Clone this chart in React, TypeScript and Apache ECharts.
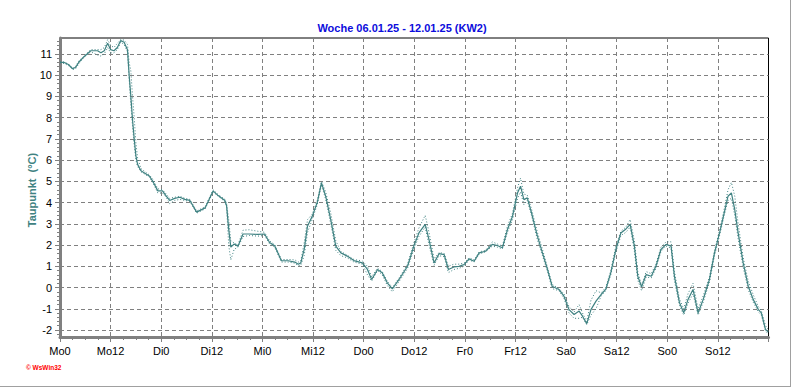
import React, { useEffect, useRef } from "react";
import * as echarts from "echarts";

const hours = [
  0, 1, 2, 3, 3.7, 4.5, 5.7, 7.3, 8.9, 9.7,
  10.5, 11.3, 12, 12.8, 13.6, 14.4, 15.2, 16, 16.4, 16.8,
  17.2, 17.6, 18, 18.4, 19.2, 20.4, 21.2, 22, 23.2, 24.3,
  25.2, 26, 27.2, 28.4, 29.6, 30.8, 32.4, 34.4, 36.3, 37.5,
  39.1, 39.5, 40, 40.5, 41.3, 42.2, 43.4, 44.9, 46.9, 48.5,
  49.7, 50.9, 52.5, 54.1, 55.7, 56.5, 57.1, 57.9, 58.7, 59.8,
  61, 62, 63, 64.2, 65.4, 66.6, 68.1, 69.7, 71.7, 72.9,
  73.9, 75.3, 76.4, 77.6, 78.8, 80.4, 82.4, 83.9, 85.1, 86.6,
  87.5, 88.7, 89.9, 91.1, 92.1, 93.4, 94.6, 95.8, 97, 98.2,
  99.4, 100.9, 102.5, 103.7, 104.9, 106.1, 107.3, 108.5, 109.2, 110,
  110.8, 111.8, 113.2, 114.4, 115.6, 116.7, 118.3, 119.5, 120.7, 121.9,
  123.1, 123.9, 124.9, 125.9, 127.1, 128.3, 129.4, 130.6, 131.8, 133,
  134.2, 135.2, 136.2, 137, 137.9, 139, 140.2, 141.3, 142.5, 143.7,
  144.9, 145.7, 146.9, 147.9, 148.9, 150.1, 151.3, 152.5, 154, 155.2,
  156.4, 157.5, 158.4, 159.2, 160, 160.8, 162, 163.2, 164.4, 165.6,
  166.3, 167.3, 168,
];

const taupunkt = [
  10.6, 10.6, 10.5, 10.3, 10.37, 10.62, 10.87, 11.15, 11.15, 11.05,
  11.15, 11.5, 11.2, 11.15, 11.3, 11.63, 11.55, 11.2, 10.0, 9.0,
  7.9, 7.0, 6.2, 5.8, 5.5, 5.35, 5.25, 5.0, 4.55, 4.55,
  4.3, 4.1, 4.2, 4.25, 4.15, 4.1, 3.55, 3.75, 4.55, 4.33,
  4.1, 3.85, 2.75, 1.9, 2.05, 1.95, 2.52, 2.52, 2.5, 2.52,
  2.12, 1.97, 1.26, 1.26, 1.2, 1.1, 1.16, 1.8, 2.9, 3.35,
  4.0, 4.93, 4.3, 3.2, 1.95, 1.63, 1.48, 1.27, 1.16, 0.85,
  0.38, 0.85, 0.7, 0.22, -0.06, 0.38, 1.0, 1.95, 2.57, 2.97,
  2.26, 1.16, 1.6, 1.55, 0.85, 0.97, 1.0, 1.08, 1.35, 1.24,
  1.63, 1.71, 2.03, 1.98, 1.87, 2.73, 3.36, 4.46, 4.77, 4.14,
  4.22, 3.52, 2.42, 1.63, 0.85, 0.06, -0.09, -0.41, -1.04, -1.27,
  -1.11, -1.35, -1.7, -1.04, -0.64, -0.33, -0.09, 0.69, 1.79, 2.57,
  2.76, 2.97, 1.95, 0.53, 0.03, 0.61, 0.53, 1.0, 1.79, 2.03,
  1.95, 0.53, -0.72, -1.19, -0.57, -0.09, -1.19, -0.57, 0.38, 1.63,
  2.57, 3.52, 4.3, 4.46, 3.67, 2.57, 1.16, 0.06, -0.57, -1.04,
  -1.19, -1.98, -2.1,
];

const taupunktMin = [
  10.58, 10.55, 10.45, 10.27, 10.3, 10.55, 10.85, 11.1, 10.95, 10.9,
  11.0, 11.3, 11.05, 11.05, 11.2, 11.55, 11.45, 11.1, 9.8, 8.6,
  7.6, 6.7, 6.0, 5.7, 5.45, 5.3, 5.2, 4.95, 4.45, 4.45,
  4.25, 3.95, 4.1, 4.15, 4.1, 4.05, 3.5, 3.7, 4.5, 4.3,
  4.05, 3.8, 2.0, 1.3, 1.8, 1.9, 2.4, 2.45, 2.42, 2.45,
  2.05, 1.9, 1.2, 1.2, 1.15, 1.02, 1.05, 1.5, 2.6, 3.2,
  3.9, 4.85, 4.15, 3.0, 1.75, 1.5, 1.4, 1.2, 1.1, 0.6,
  0.3, 0.8, 0.6, 0.1, -0.2, 0.28, 0.9, 1.8, 2.4, 2.85,
  2.0, 1.05, 1.5, 1.45, 0.7, 0.85, 0.9, 1.0, 1.3, 1.2,
  1.58, 1.68, 1.95, 1.9, 1.82, 2.6, 3.2, 4.2, 4.5, 3.9,
  4.1, 3.4, 2.25, 1.5, 0.75, -0.05, -0.15, -0.5, -1.2, -1.45,
  -1.45, -1.4, -1.75, -1.3, -1.0, -0.4, -0.15, 0.6, 1.65, 2.45,
  2.6, 2.85, 1.7, 0.35, -0.15, 0.5, 0.45, 0.9, 1.7, 1.95,
  1.85, 0.3, -0.85, -1.3, -0.75, -0.3, -1.3, -0.7, 0.25, 1.5,
  2.45, 3.4, 4.1, 4.2, 3.4, 2.3, 0.95, -0.1, -0.7, -1.15,
  -1.3, -2.05, -2.2,
];

const taupunktMax = [
  10.62, 10.62, 10.52, 10.32, 10.42, 10.68, 10.9, 11.2, 11.2, 11.2,
  11.3, 11.67, 11.4, 11.3, 11.5, 11.68, 11.65, 11.45, 10.6, 10.2,
  9.0, 8.0, 6.8, 6.1, 5.6, 5.42, 5.3, 5.1, 4.65, 4.6,
  4.4, 4.2, 4.25, 4.3, 4.2, 4.15, 3.6, 3.8, 4.6, 4.38,
  4.15, 3.95, 3.2, 2.2, 2.1, 2.0, 2.7, 2.72, 2.65, 2.6,
  2.2, 2.02, 1.32, 1.32, 1.3, 1.2, 1.25, 2.1, 3.2, 3.45,
  4.1, 5.0, 4.5, 3.5, 2.2, 1.7, 1.52, 1.32, 1.25, 1.0,
  0.5, 0.92, 0.75, 0.3, 0.0, 0.45, 1.1, 2.1, 2.8, 3.4,
  2.6, 1.35, 1.65, 1.6, 1.0, 1.1, 1.1, 1.15, 1.4, 1.3,
  1.68, 1.75, 2.15, 2.05, 1.95, 2.9, 3.5, 4.7, 5.15, 4.4,
  4.35, 3.7, 2.6, 1.8, 0.95, 0.15, -0.05, -0.3, -0.9, -1.15,
  -0.8, -1.2, -1.6, -0.6, -0.15, -0.25, 0.0, 0.8, 1.95, 2.65,
  2.85, 3.2, 2.2, 0.75, 0.1, 0.75, 0.65, 1.1, 1.9, 2.15,
  2.15, 0.75, -0.55, -1.0, -0.3, 0.2, -1.0, -0.4, 0.5, 1.75,
  2.7, 3.7, 4.6, 4.95, 4.3, 3.0, 1.4, 0.3, -0.35, -0.9,
  -1.1, -1.8, -2.0,
];

const xTickLabels = [
  "Mo0", "Mo12", "Di0", "Di12", "Mi0", "Mi12", "Do0",
  "Do12", "Fr0", "Fr12", "Sa0", "Sa12", "So0", "So12", "",
];

const yTickValues = [-2, -1, 0, 1, 2, 3, 4, 5, 6, 7, 8, 9, 10, 11];

const TITLE = "Woche 06.01.25 - 12.01.25 (KW2)";
const Y_NAME = "Taupunkt  (°C)";
const FONT = "'Liberation Sans', Arial, sans-serif";
const LINE_COLOR = "#3f8282";

export default function App() {
  const ref = useRef<HTMLDivElement>(null);

  useEffect(() => {
    if (!ref.current) return;
    const chart = echarts.init(ref.current, null, { renderer: "svg" });

    const pair = (vals: number[]) => hours.map((h, i) => [h, vals[i]]);

    const yMin = -2.33;
    const yMax = 11.75;
    const minorY: number[] = [];
    for (let k = -12; k <= 59; k++) {
      const v = Math.round(k * 20) / 100;
      if (Math.abs(v - Math.round(v)) > 1e-6 && v > yMin && v < yMax) minorY.push(v);
    }

    chart.setOption({
      animation: false,
      backgroundColor: "#ffffff",
      title: {
        text: TITLE,
        left: 397,
        textAlign: "center",
        top: 17,
        textStyle: { color: "#0c0cdc", fontSize: 11, fontWeight: "bold", fontFamily: FONT },
      },
      grid: {
        left: 60,
        top: 38,
        right: 23.5,
        bottom: 50,
        show: true,
        borderColor: "#000000",
        borderWidth: 1,
        backgroundColor: "transparent",
      },
      xAxis: {
        type: "value",
        min: 0,
        max: 168,
        interval: 12,
        axisLine: { show: true, onZero: false, lineStyle: { color: "#808080", width: 3 } },
        axisTick: { show: true, length: 5, lineStyle: { color: "#808080", width: 1 } },
        minorTick: { show: true, splitNumber: 4, length: 3, lineStyle: { color: "#808080", width: 1 } },
        axisLabel: {
          margin: 8,
          color: "#000000",
          fontSize: 11,
          fontFamily: FONT,
          formatter: (v: number) => xTickLabels[Math.round(v / 12)] ?? "",
        },
        splitLine: {
          show: true,
          showMinLine: false,
          showMaxLine: false,
          lineStyle: { color: "#808080", type: [4, 3], width: 1 },
        },
      },
      yAxis: [
        {
          type: "value",
          min: yMin,
          max: yMax,
          axisLine: { show: true, onZero: false, lineStyle: { color: "#808080", width: 3 } },
          axisTick: { show: true, length: 5, customValues: yTickValues, lineStyle: { color: "#808080", width: 1 } },
          axisLabel: {
            customValues: yTickValues,
            margin: 8,
            color: "#000000",
            fontSize: 11,
            fontFamily: FONT,
          },
          splitLine: {
            show: true,
            lineStyle: { color: "#808080", type: [4, 3], width: 1 },
          },
        },
        {
          type: "value",
          min: yMin,
          max: yMax,
          position: "left",
          axisLine: { show: false, onZero: false },
          axisTick: { show: true, length: 3, customValues: minorY, lineStyle: { color: "#808080", width: 1 } },
          axisLabel: { show: false },
          splitLine: { show: false },
        },
      ],
      series: [
        {
          type: "line",
          name: "min",
          data: pair(taupunktMin),
          showSymbol: false,
          lineStyle: { color: LINE_COLOR, width: 1, type: [1, 2] },
          z: 2,
        },
        {
          type: "line",
          name: "max",
          data: pair(taupunktMax),
          showSymbol: false,
          lineStyle: { color: LINE_COLOR, width: 1, type: [1, 2] },
          z: 2,
        },
        {
          type: "line",
          name: "Taupunkt",
          data: pair(taupunkt),
          showSymbol: false,
          lineStyle: { color: LINE_COLOR, width: 1.2 },
          z: 3,
        },
      ],
      graphic: [
        {
          type: "text",
          x: 32,
          y: 190,
          rotation: Math.PI / 2,
          style: {
            text: Y_NAME,
            fill: "#3f8282",
            font: `bold 11px ${FONT}`,
            textAlign: "center",
            textVerticalAlign: "middle",
          },
        },
        {
          type: "text",
          x: 26,
          y: 367.5,
          style: {
            text: "© WsWin32",
            fill: "#ff0000",
            font: `bold 6.5px ${FONT}`,
            textAlign: "left",
            textVerticalAlign: "middle",
          },
        },
        {
          type: "line",
          shape: { x1: 790.5, y1: 0, x2: 790.5, y2: 386.5 },
          style: { stroke: "#a0a0a0", lineWidth: 1 },
        },
        {
          type: "line",
          shape: { x1: 0, y1: 386.5, x2: 791, y2: 386.5 },
          style: { stroke: "#a0a0a0", lineWidth: 1 },
        },
      ],
    });

    return () => chart.dispose();
  }, []);

  return (
    <div
      ref={ref}
      style={{ position: "fixed", left: 0, top: 0, width: 792, height: 387, background: "#fff" }}
    />
  );
}
